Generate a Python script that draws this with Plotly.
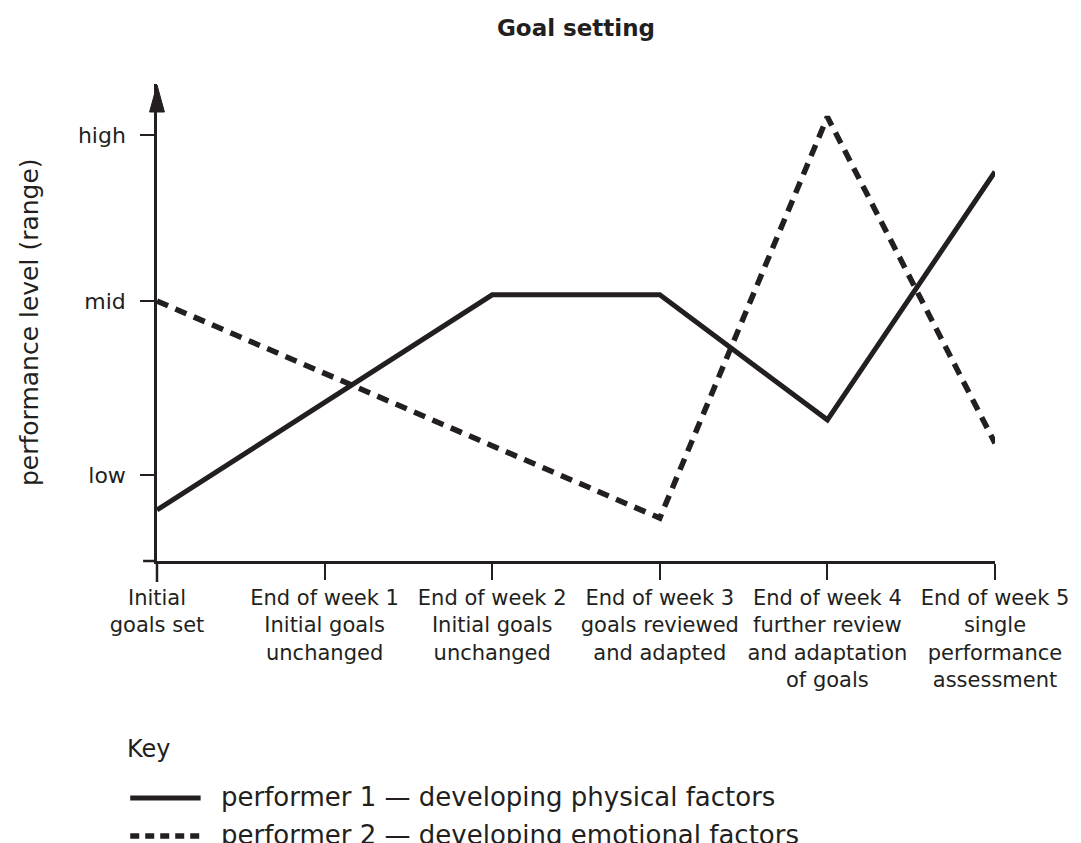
import plotly.graph_objects as go

# ---- data ----
categories = ["Initial<br>goals set",
              "End of week 1<br>Initial goals<br>unchanged",
              "End of week 2<br>Initial goals<br>unchanged",
              "End of week 3<br>goals reviewed<br>and adapted",
              "End of week 4<br>further review<br>and adaptation<br>of goals",
              "End of week 5<br>single<br>performance<br>assessment"]
level_labels = ["low", "mid", "high"]
level_values = [1.80, 5.45, 8.93]
performer1 = [1.07, 3.33, 5.58, 5.58, 2.96, 8.16]
performer2 = [5.45, 3.94, 2.41, 0.90, 9.31, 2.47]
series_names = ["performer 1 — developing physical factors",
                "performer 2 — developing emotional factors"]

FONT = "DejaVu Sans"
INK = "#231f20"
W, H = 1081, 843
L, T = 157, 84
R = W - 1002
B = H - 561
pw, ph = W - L - R, H - T - B

def px(x):  # page pixel -> paper x
    return (x - L) / pw

def py(y):  # page pixel -> paper y
    return (H - B - y) / ph

xs = list(range(len(categories)))

fig = go.Figure()
fig.add_trace(go.Scatter(x=xs, y=performer1, mode="lines", name=series_names[0],
                         line=dict(color=INK, width=5), showlegend=False))
fig.add_trace(go.Scatter(x=xs, y=performer2, mode="lines", name=series_names[1],
                         line=dict(color=INK, width=5.5, dash="12px,8px"), showlegend=False))

shapes = []
shapes.append(dict(type="line", xref="paper", yref="paper", x0=px(143), x1=0, y0=0, y1=0,
                   line=dict(color=INK, width=2.5)))
shapes.append(dict(type="line", xref="paper", yref="paper", x0=0, x1=0, y0=py(582), y1=0,
                   line=dict(color=INK, width=2.5)))
shapes.append(dict(type="path", xref="paper", yref="paper",
                   path=f"M {px(157)} {py(85)} L {px(149.5)} {py(112)} L {px(164.5)} {py(112)} Z",
                   fillcolor=INK, line=dict(color=INK, width=1)))
shapes.append(dict(type="line", xref="paper", yref="paper", x0=px(130), x1=px(201),
                   y0=py(798), y1=py(798), line=dict(color=INK, width=5)))
shapes.append(dict(type="line", xref="paper", yref="paper", x0=px(130), x1=px(201),
                   y0=py(836), y1=py(836), line=dict(color=INK, width=5.5, dash="9px,6px")))

annotations = [
    dict(text="performance level (range)", xref="paper", yref="paper", x=px(28), y=py(322),
         xanchor="center", yanchor="middle",
         textangle=-90, showarrow=False, font=dict(family=FONT, size=25, color=INK)),
    dict(text="Key", xref="paper", yref="paper", x=px(125), y=py(749),
         xanchor="left", yanchor="middle",
         showarrow=False, font=dict(family=FONT, size=24, color=INK)),
    dict(text=series_names[0], xref="paper", yref="paper", x=px(220), y=py(797),
         xanchor="left", yanchor="middle",
         showarrow=False, font=dict(family=FONT, size=26, color=INK)),
    dict(text=series_names[1], xref="paper", yref="paper", x=px(220), y=py(835),
         xanchor="left", yanchor="middle",
         showarrow=False, font=dict(family=FONT, size=26, color=INK)),
]

fig.update_layout(
    width=W, height=H,
    margin=dict(l=L, r=R, t=T, b=B),
    paper_bgcolor="white", plot_bgcolor="white",
    title=dict(text="<b>Goal setting</b>", x=0.5, xref="paper", xanchor="center",
               y=1 - 28 / H, yanchor="middle",
               font=dict(family=FONT, size=23, color=INK)),
    shapes=shapes, annotations=annotations,
    font=dict(family=FONT, color=INK),
)
fig.update_xaxes(range=[0, 5], tickvals=xs, ticktext=categories, showgrid=False, zeroline=False,
                 showline=True, linecolor=INK, linewidth=2.5,
                 ticks="outside", ticklen=16, tickwidth=1.5, tickcolor=INK,
                 tickfont=dict(family=FONT, size=21, color=INK), tickangle=0)
fig.update_yaxes(range=[0, 10], tickvals=level_values, ticktext=level_labels, showgrid=False,
                 zeroline=False, showline=True, linecolor=INK, linewidth=2.5,
                 ticks="outside", ticklen=14, tickwidth=1.5, tickcolor=INK,
                 ticklabelstandoff=10,
                 tickfont=dict(family=FONT, size=22, color=INK))

# remove the default 8px page margin so the figure fills the window exactly
fig.write_html("out.html", config={"displayModeBar": False},
               post_script="document.body.style.margin='0';document.body.style.overflow='hidden';")
